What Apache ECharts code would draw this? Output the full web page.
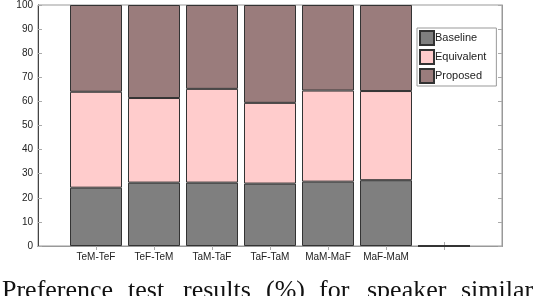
<!DOCTYPE html>
<html><head><meta charset="utf-8">
<script src="https://cdn.jsdelivr.net/npm/echarts@6/dist/echarts.min.js"></script>
<style>html,body{margin:0;padding:0;background:#fff}#c{width:538px;height:296px}</style>
</head><body><div id="c"></div>
<script>
const categories = ['', 'TeM-TeF', 'TeF-TeM', 'TaM-TaF', 'TaF-TaM', 'MaM-MaF', 'MaF-MaM', '', ''];
const baseline   = [null, 24.2, 26.3, 26.3, 25.9, 26.7, 27.3, 0, null];
const equivalent = [null, 39.8, 35.1, 38.9, 33.5, 37.8, 37.0, 0, null];
const proposed   = [null, 36.0, 38.6, 34.8, 40.6, 35.5, 35.7, 0, null];
const yTicks = [0, 10, 20, 30, 40, 50, 60, 70, 80, 90, 100];
const captionWords = ['Preference', 'test', 'results', '(%)', 'for', 'speaker', 'similar'];
const captionLefts = [2, 128, 183, 266, 319, 367, 461];

const chart = echarts.init(document.getElementById('c'));
const font = 'Liberation Sans, Arial, sans-serif';
const barStyle = (c) => ({ color: c, borderColor: '#333', borderWidth: 1 });
chart.setOption({
  animation: false,
  grid: { left: 38, right: 36, top: 4, bottom: 50, show: true, borderColor: '#999', borderWidth: 1 },
  legend: {
    data: ['Baseline', 'Equivalent', 'Proposed'],
    orient: 'vertical', left: 417, top: 28,
    itemWidth: 14, itemHeight: 14, itemGap: 3,
    padding: [2, 10, 2, 2], borderColor: '#999', borderWidth: 1,
    textStyle: { fontFamily: font, fontSize: 11, color: '#222', padding: [0, 0, 0, -4] },
    icon: 'rect'
  },
  xAxis: [{
    type: 'category', data: categories, boundaryGap: false,
    axisLine: { lineStyle: { color: '#444' } },
    axisTick: { inside: true, length: 4, lineStyle: { color: '#aaa' }, interval: (i) => i >= 1 && i <= 7 },
    axisLabel: { fontFamily: font, fontSize: 10, color: '#222', margin: 6, interval: 0 },
    splitLine: { show: false }
  }, {
    type: 'category', data: categories, boundaryGap: false, position: 'top',
    axisLine: { lineStyle: { color: '#999' } },
    axisTick: { inside: true, length: 4, lineStyle: { color: '#aaa' }, interval: (i) => i >= 1 && i <= 7 },
    axisLabel: { show: false }
  }],
  yAxis: [{
    type: 'value', min: 0, max: 100, interval: 10,
    axisLine: { show: true, lineStyle: { color: '#444' } },
    axisTick: { show: true, inside: true, length: 4, lineStyle: { color: '#aaa' } },
    axisLabel: { fontFamily: font, fontSize: 10, color: '#222', margin: 5,
      formatter: (v) => yTicks.includes(v) ? String(v) : '' },
    splitLine: { show: false }
  }, {
    type: 'value', min: 0, max: 100, interval: 10, position: 'right',
    axisLine: { show: true, lineStyle: { color: '#999' } },
    axisTick: { show: true, inside: true, length: 4, lineStyle: { color: '#aaa' } },
    axisLabel: { show: false }, splitLine: { show: false }
  }],
  series: [
    { name: 'Baseline', type: 'bar', stack: 's', data: baseline, barWidth: 52, itemStyle: barStyle('#7f7f7f') },
    { name: 'Equivalent', type: 'bar', stack: 's', data: equivalent, barWidth: 52, itemStyle: barStyle('#ffcccc') },
    { name: 'Proposed', type: 'bar', stack: 's', data: proposed, barWidth: 52, itemStyle: barStyle('#9a7c7c') }
  ],
  graphic: captionWords.map((w, i) => ({
    type: 'text', left: captionLefts[i], top: 278,
    style: { text: w, font: '26px "Liberation Serif", "Times New Roman", serif', fill: '#111' }
  }))
});
</script></body></html>
